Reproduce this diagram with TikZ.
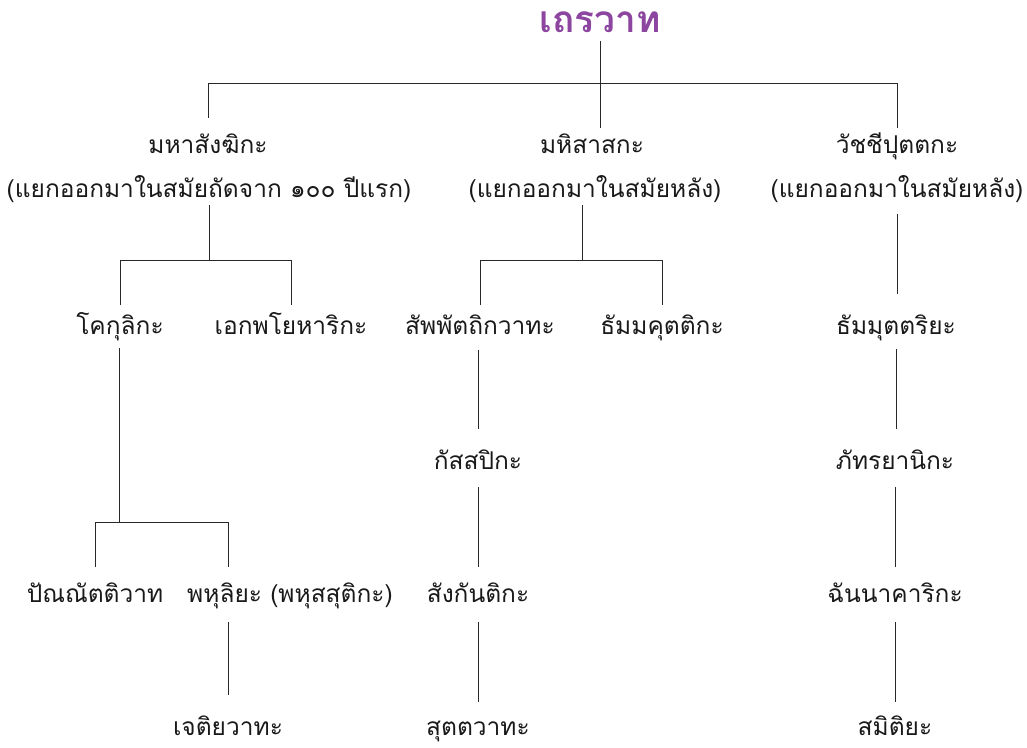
\documentclass[tikz,border=0pt]{standalone}
\usepackage{fontspec}
\newfontfamily\thai[Script=Thai]{Loma}
\definecolor{titlepurple}{RGB}{140,70,160}
\definecolor{linegray}{RGB}{40,40,40}
\tikzset{
  lbl/.style={font=\thai\fontsize{24.5}{28}\selectfont, inner sep=0pt, text=black!90, text height=20pt, text depth=6pt},
  ttl/.style={font=\thai\bfseries\fontsize{37}{40}\selectfont, inner sep=0pt, text=titlepurple},
  ln/.style={draw=linegray, line width=0.9pt}
}
\begin{document}
\begin{tikzpicture}[x=1pt,y=-1pt]
\useasboundingbox (0,0) rectangle (1027,747);
% title
\node[ttl] (t) at (600,22) {เถรวาท};
% level 1
\node[lbl] (a1) at (208,146) {มหาสังฆิกะ};
\node[lbl] (a1s) at (209,190) {(แยกออกมาในสมัยถัดจาก ๑๐๐ ปีแรก)};
\node[lbl] (b1) at (592,146) {มหิสาสกะ};
\node[lbl] (b1s) at (595,190) {(แยกออกมาในสมัยหลัง)};
\node[lbl] (c1) at (897,146) {วัชชีปุตตกะ};
\node[lbl] (c1s) at (897,190) {(แยกออกมาในสมัยหลัง)};
% level 2
\node[lbl] (a2) at (120,327) {โคกุลิกะ};
\node[lbl] (a3) at (291,327) {เอกพโยหาริกะ};
\node[lbl] (b2) at (480,327) {สัพพัตถิกวาทะ};
\node[lbl] (b3) at (662,327) {ธัมมคุตติกะ};
\node[lbl] (c2) at (896,327) {ธัมมุตตริยะ};
% level 3
\node[lbl] (b4) at (478,462) {กัสสปิกะ};
\node[lbl] (c3) at (895,462) {ภัทรยานิกะ};
% level 4
\node[lbl] (a4) at (95,595) {ปัณณัตติวาท};
\node[lbl] (a5) at (290,595) {พหุลิยะ (พหุสสุติกะ)};
\node[lbl] (b5) at (478,595) {สังกันติกะ};
\node[lbl] (c4) at (895,595) {ฉันนาคาริกะ};
% level 5
\node[lbl] (a6) at (228,728) {เจติยวาทะ};
\node[lbl] (b6) at (478,728) {สุตตวาทะ};
\node[lbl] (c5) at (895,728) {สมิติยะ};
% junctions
\coordinate (jt) at (600,83);
\coordinate (ja) at (209,260);
\coordinate (jb) at (582,260);
\coordinate (jk) at (119,522);
\coordinate (jp) at (228,522);
% connectors
\draw[ln] (t |- 0,41) -- (t |- 0,128);
\draw[ln] (a1 |- jt) -- (c1 |- jt);
\draw[ln] (a1 |- jt) -- (a1 |- 0,118);
\draw[ln] (c1 |- jt) -- (c1 |- 0,128);
% mahasanghika
\draw[ln] (ja |- 0,205) -- (ja);
\draw[ln] (a2 |- ja) -- (a3 |- ja);
\draw[ln] (a2 |- ja) -- (a2 |- 0,305);
\draw[ln] (a3 |- ja) -- (a3 |- 0,305);
\draw[ln] (jk |- 0,348) -- (jk);
\draw[ln] (a4 |- jk) -- (jp);
\draw[ln] (a4 |- jk) -- (a4 |- 0,567);
\draw[ln] (jp) -- (jp |- 0,567);
\draw[ln] (jp |- 0,622) -- (a6 |- 0,695);
% mahisasaka
\draw[ln] (jb |- 0,205) -- (jb);
\draw[ln] (b2 |- jb) -- (b3 |- jb);
\draw[ln] (b2 |- jb) -- (b2 |- 0,305);
\draw[ln] (b3 |- jb) -- (b3 |- 0,305);
\draw[ln] (b4 |- 0,350) -- (b4 |- 0,429);
\draw[ln] (b4 |- 0,487) -- (b4 |- 0,567);
\draw[ln] (b5 |- 0,622) -- (b5 |- 0,702);
% vajjiputtaka
\draw[ln] (c1 |- 0,214) -- (c1 |- 0,294);
\draw[ln] (c2 |- 0,349) -- (c2 |- 0,429);
\draw[ln] (c3 |- 0,487) -- (c3 |- 0,567);
\draw[ln] (c4 |- 0,622) -- (c4 |- 0,702);
\end{tikzpicture}
\end{document}
